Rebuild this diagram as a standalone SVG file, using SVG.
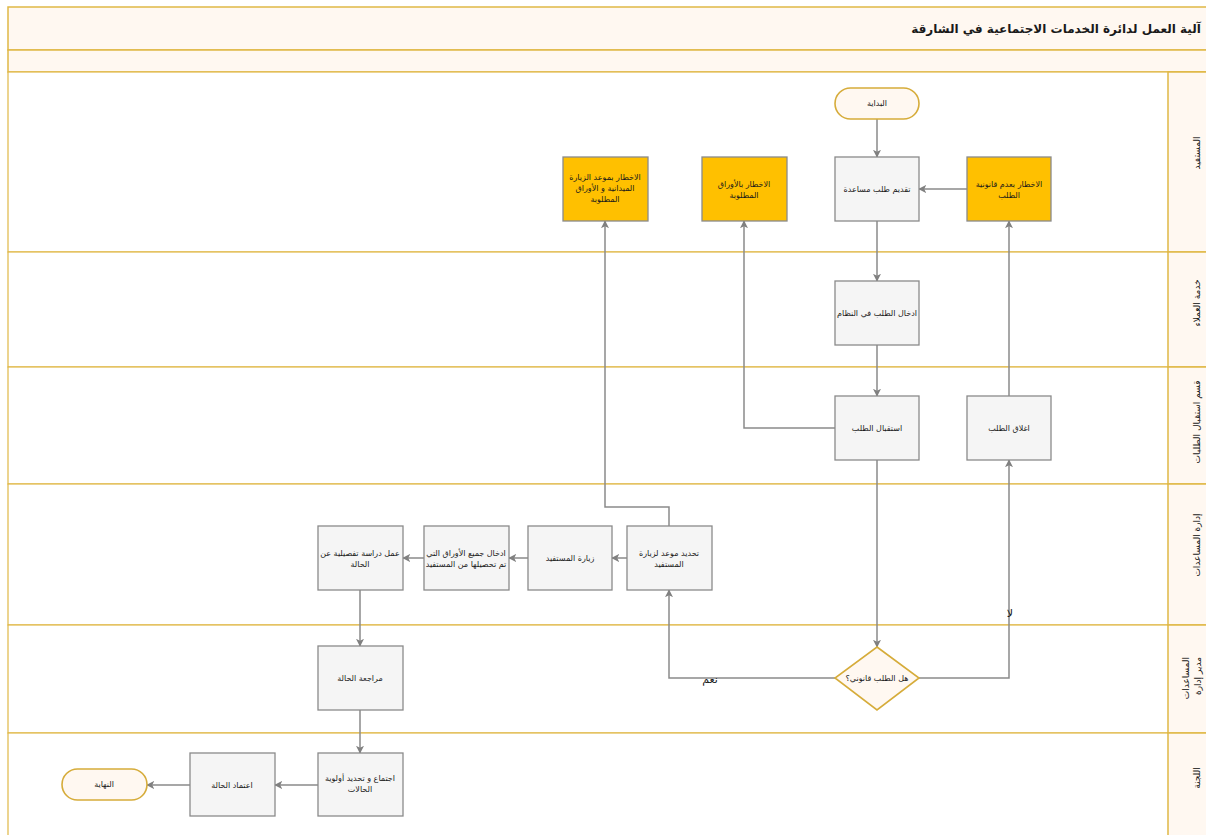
<svg xmlns="http://www.w3.org/2000/svg" width="1206" height="835" viewBox="0 0 1206 835">
<defs>
<marker id="ah" viewBox="0 0 10 10" refX="9" refY="5" markerWidth="8" markerHeight="8" markerUnits="userSpaceOnUse" orient="auto">
<path d="M0,0 L10,5 L0,10 L2.5,5 Z" fill="#808080"/>
</marker>
<style>
.band{fill:#fff8f1;stroke:#e0b846;stroke-width:1.5}
.lane{fill:#ffffff;stroke:#e0b846;stroke-width:1.2}
.hdr{fill:#fff8f1;stroke:#e0b846;stroke-width:1.5}
.proc rect{fill:#f5f5f5;stroke:#8a8a8a;stroke-width:1.3}
.alert rect{fill:#ffc000;stroke:#8a8a8a;stroke-width:1.3}
.term rect,.dec polygon{fill:#fff8f1;stroke:#d6ac3a;stroke-width:1.6}
text{font-family:"DejaVu Sans","Liberation Sans",sans-serif;fill:#1a1a1a}
.t{font-size:8px;text-anchor:middle}
.lbl{font-size:11px;text-anchor:middle}
.edge{fill:none;stroke:#8a8a8a;stroke-width:1.5;marker-end:url(#ah)}
.title{font-size:12px;text-anchor:middle;font-weight:bold}
.lanet{font-size:9px;text-anchor:middle}
.lanee{font-size:9px;text-anchor:end}
</style>
</defs>
<rect width="1206" height="835" fill="#ffffff"/>
<g id="frame">
<rect class="band" x="8" y="7" width="1210" height="43"/>
<text class="title" x="1056" y="33">آلية العمل لدائرة الخدمات الاجتماعية في الشارقة</text>
<rect class="band" x="8" y="50" width="1210" height="22"/>
</g>
<g id="lanes">
<rect class="lane" x="8" y="72" width="1210" height="180"/>
<rect class="lane" x="8" y="252" width="1210" height="115"/>
<rect class="lane" x="8" y="367" width="1210" height="117"/>
<rect class="lane" x="8" y="484" width="1210" height="141"/>
<rect class="lane" x="8" y="625" width="1210" height="108"/>
<rect class="lane" x="8" y="733" width="1210" height="110"/>
<rect class="hdr" x="1168" y="72" width="50" height="180"/>
<rect class="hdr" x="1168" y="252" width="50" height="115"/>
<rect class="hdr" x="1168" y="367" width="50" height="117"/>
<rect class="hdr" x="1168" y="484" width="50" height="141"/>
<rect class="hdr" x="1168" y="625" width="50" height="108"/>
<rect class="hdr" x="1168" y="733" width="50" height="110"/>
<text class="lanet" transform="translate(1200,153) rotate(-90)">المستفيد</text>
<text class="lanet" transform="translate(1200,303) rotate(-90)">خدمة العملاء</text>
<text class="lanet" transform="translate(1200,422) rotate(-90)">قسم استقبال الطلبات</text>
<text class="lanet" transform="translate(1200,545) rotate(-90)">إدارة المساعدات</text>
<text class="lanee" transform="translate(1201,657) rotate(-90)">مدير إدارة</text>
<text class="lanee" transform="translate(1189,657) rotate(-90)">المساعدات</text>
<text class="lanet" transform="translate(1200,778) rotate(-90)">اللجنة</text>
</g>
<g id="connectors">
<path class="edge" d="M877,119 L877,157"/>
<path class="edge" d="M967,189 L919,189"/>
<path class="edge" d="M877,221 L877,281"/>
<path class="edge" d="M877,345 L877,396"/>
<path class="edge" d="M835,428 L744,428 L744,221"/>
<path class="edge" d="M877,460 L877,647"/>
<path class="edge" d="M919,678 L1009,678 L1009,460"/>
<path class="edge" d="M1009,396 L1009,221"/>
<path class="edge" d="M835,678 L669,678 L669,590"/>
<path class="edge" d="M669,526 L669,507 L605,507 L605,221"/>
<path class="edge" d="M627,558 L612,558"/>
<path class="edge" d="M528,558 L509,558"/>
<path class="edge" d="M424,558 L403,558"/>
<path class="edge" d="M360,590 L360,646"/>
<path class="edge" d="M360,710 L360,753"/>
<path class="edge" d="M318,785 L275,785"/>
<path class="edge" d="M190,785 L147,785"/>
<text class="lbl" x="1010" y="617">لا</text>
<text class="lbl" x="710" y="683">نعم</text>
</g>
<g id="start" class="term"><rect x="835" y="88" width="84" height="31" rx="15.5"/><text class="t" x="877" y="106">البداية</text></g>
<g id="submit" class="proc"><rect x="835" y="157" width="84" height="64"/><text class="t" x="877" y="192">تقديم طلب مساعدة</text></g>
<g id="notify-illegal" class="alert"><rect x="967" y="157" width="84" height="64"/><text class="t" x="1009" y="187">الاخطار بعدم قانونية</text><text class="t" x="1009" y="198">الطلب</text></g>
<g id="notify-papers" class="alert"><rect x="702" y="157" width="85" height="64"/><text class="t" x="744" y="187">الاخطار بالأوراق</text><text class="t" x="744" y="198">المطلوبة</text></g>
<g id="notify-visit" class="alert"><rect x="563" y="157" width="85" height="64"/><text class="t" x="605" y="180">الاخطار بموعد الزيارة</text><text class="t" x="605" y="191">الميدانية و الأوراق</text><text class="t" x="605" y="202">المطلوبة</text></g>
<g id="enter" class="proc"><rect x="835" y="281" width="84" height="64"/><text class="t" x="877" y="316">ادخال الطلب في النظام</text></g>
<g id="receive" class="proc"><rect x="835" y="396" width="84" height="64"/><text class="t" x="877" y="431">استقبال الطلب</text></g>
<g id="close" class="proc"><rect x="967" y="396" width="84" height="64"/><text class="t" x="1009" y="431">اغلاق الطلب</text></g>
<g id="schedule" class="proc"><rect x="627" y="526" width="85" height="64"/><text class="t" x="669" y="556">تحديد موعد لزيارة</text><text class="t" x="669" y="567">المستفيد</text></g>
<g id="visit" class="proc"><rect x="528" y="526" width="84" height="64"/><text class="t" x="570" y="561">زيارة المستفيد</text></g>
<g id="enter-papers" class="proc"><rect x="424" y="526" width="85" height="64"/><text class="t" x="466" y="556">ادخال جميع الأوراق التي</text><text class="t" x="466" y="567">تم تحصيلها من المستفيد</text></g>
<g id="study" class="proc"><rect x="318" y="526" width="85" height="64"/><text class="t" x="360" y="556">عمل دراسة تفصيلية عن</text><text class="t" x="360" y="567">الحالة</text></g>
<g id="decision" class="dec"><polygon points="877,647 919,678 877,710 835,678"/><text class="t" x="877" y="681">هل الطلب قانوني؟</text></g>
<g id="review" class="proc"><rect x="318" y="646" width="85" height="64"/><text class="t" x="360" y="681">مراجعة الحالة</text></g>
<g id="meeting" class="proc"><rect x="318" y="753" width="85" height="63"/><text class="t" x="360" y="781">اجتماع و تحديد أولوية</text><text class="t" x="360" y="792">الحالات</text></g>
<g id="approve" class="proc"><rect x="190" y="753" width="85" height="63"/><text class="t" x="232" y="788">اعتماد الحالة</text></g>
<g id="end" class="term"><rect x="62" y="769" width="85" height="31" rx="15.5"/><text class="t" x="104" y="787">النهاية</text></g>
</svg>
